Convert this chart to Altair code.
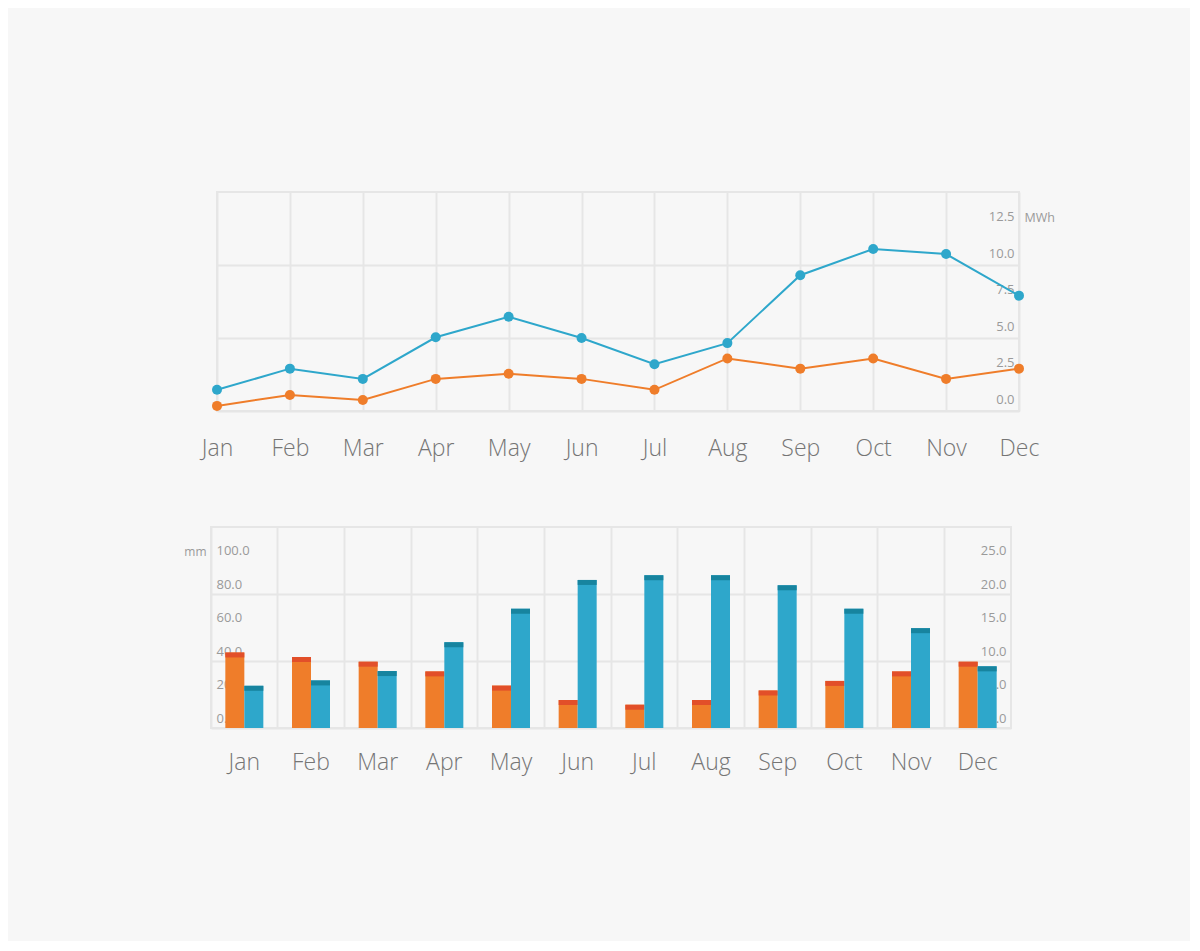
import altair as alt
import pandas as pd

months = ["Jan", "Feb", "Mar", "Apr", "May", "Jun", "Jul", "Aug", "Sep", "Oct", "Nov", "Dec"]

# top line chart (MWh)
energy_blue = [1.45, 2.9, 2.2, 5.05, 6.45, 5.0, 3.2, 4.65, 9.3, 11.1, 10.75, 7.9]
energy_orange = [0.35, 1.1, 0.75, 2.2, 2.55, 2.2, 1.45, 3.6, 2.9, 3.6, 2.2, 2.9]

# bottom bar chart
rain_mm = [45.1, 42.4, 39.6, 33.8, 25.3, 16.7, 13.9, 16.7, 22.4, 28.1, 33.8, 39.6]
right_vals = [6.3, 7.1, 8.5, 12.8, 17.8, 22.1, 22.8, 22.8, 21.3, 17.8, 14.9, 9.2]

BLUE = "#2ea7cb"
ORANGE = "#ef7d2a"
ORANGE_CAP = "#e24f29"
BLUE_CAP = "#17849f"
GRID = "#e6e6e6"
LABEL = "#9a9a9a"
MONTH = "#757575"
FONT = "Open Sans"

line_df = pd.DataFrame({
    "month": months * 2,
    "value": energy_blue + energy_orange,
    "series": ["blue"] * 12 + ["orange"] * 12,
})

x_top = alt.X(
    "month:N", sort=months,
    scale=alt.Scale(type="point", padding=0),
    axis=alt.Axis(
        title=None, domain=False, ticks=False, grid=True, gridColor=GRID, gridWidth=2,
        labelFontSize=23, labelColor=MONTH, labelPadding=26, labelFont=FONT, labelFontWeight=300,
        labelAngle=0,
    ),
)
y_top = alt.Y(
    "value:Q",
    scale=alt.Scale(domain=[0, 15], nice=False),
    axis=alt.Axis(
        orient="right", title="MWh", titleAngle=0, titleX=5, titleY=25, titleAlign="left",
        titleBaseline="middle", titleFontSize=12.5, titleFontWeight="normal", titleColor=LABEL, titleFont=FONT,
        values=[0, 2.5, 5, 7.5, 10, 12.5], format=".1f", domain=False, ticks=False,
        labelAlign="right", labelPadding=-5, labelOffset=-12, labelBaseline="middle",
        labelFontSize=13, labelColor=LABEL, labelFont=FONT,
        grid=True, gridWidth=2,
        gridColor={"condition": {"test": "datum.value % 5 === 0", "value": GRID}, "value": "transparent"},
    ),
)
color_top = alt.Color("series:N", scale=alt.Scale(domain=["blue", "orange"], range=[BLUE, ORANGE]), legend=None)

base_top = alt.Chart(line_df).encode(x=x_top, y=y_top, color=color_top, detail="series:N")
top = alt.layer(
    base_top.mark_line(strokeWidth=2),
    base_top.mark_point(filled=True, size=100, opacity=1),
).properties(width=802, height=219)

spacer_df = pd.DataFrame({"month": ["Jan"], "value": [0]})
spacer = alt.Chart(spacer_df).mark_point(opacity=0).encode(
    x=alt.X("month:N", axis=None), y=alt.Y("value:Q", axis=None)
).properties(width=6, height=219, view=alt.ViewBackground(stroke="transparent"))

top_row = alt.hconcat(spacer, top, spacing=0, bounds="flush")

bar_df_o = pd.DataFrame({"month": months, "v": rain_mm})
bar_df_b = pd.DataFrame({"month": months, "v": right_vals})

x_bot = alt.X(
    "month:N", sort=months,
    scale=alt.Scale(type="band", paddingInner=0, paddingOuter=0),
    axis=alt.Axis(
        title=None, domain=False, ticks=False, grid=True, gridColor=GRID, gridWidth=2, bandPosition=0,
        labelFontSize=23, labelColor=MONTH, labelPadding=23, labelFont=FONT, labelFontWeight=300,
        labelAngle=0,
    ),
)
y_left = alt.Y(
    "v:Q",
    scale=alt.Scale(domain=[0, 120], nice=False),
    axis=alt.Axis(
        orient="left", title="mm", titleAngle=0, titleX=-5, titleY=24, titleAlign="right",
        titleBaseline="middle", titleFontSize=12, titleFontWeight="normal", titleColor=LABEL, titleFont=FONT,
        values=[0, 20, 40, 60, 80, 100], format=".1f", domain=False, ticks=False,
        labelAlign="left", labelPadding=-5, labelOffset=-10, labelBaseline="middle",
        labelFontSize=13, labelColor=LABEL, labelFont=FONT,
        grid=True, gridWidth=2,
        gridColor={"condition": {"test": "datum.value % 40 === 0", "value": GRID}, "value": "transparent"},
    ),
)
y_right = alt.Y(
    "v:Q",
    scale=alt.Scale(domain=[0, 30], nice=False),
    axis=alt.Axis(
        orient="right", title=None, values=[0, 5, 10, 15, 20, 25], format=".1f", domain=False, ticks=False,
        labelAlign="right", labelPadding=-5, labelOffset=-10, labelBaseline="middle",
        labelFontSize=13, labelColor=LABEL, labelFont=FONT, grid=False,
    ),
)

orange_layer = alt.layer(
    alt.Chart(bar_df_o).mark_bar(color=ORANGE, width=19, xOffset=-9.5).encode(x=x_bot, y=y_left),
    alt.Chart(bar_df_o).mark_bar(color=ORANGE_CAP, width=19, xOffset=-9.5, y2Offset=5).encode(
        x=x_bot, y=y_left, y2=alt.Y2("v:Q")),
)
blue_layer = alt.layer(
    alt.Chart(bar_df_b).mark_bar(color=BLUE, width=19, xOffset=9.5).encode(x=x_bot, y=y_right),
    alt.Chart(bar_df_b).mark_bar(color=BLUE_CAP, width=19, xOffset=9.5, y2Offset=5).encode(
        x=x_bot, y=y_right, y2=alt.Y2("v:Q")),
)
bottom = alt.layer(orange_layer, blue_layer).resolve_scale(y="independent").properties(width=800, height=201)

chart = alt.vconcat(top_row, bottom, spacing=65).properties(
    padding={"top": 183, "left": 174, "right": 134, "bottom": 166},
    background="#f7f7f7",
).configure_view(stroke=GRID, strokeWidth=2)

chart.save("out.html", embed_options={"renderer": "svg", "actions": False})
